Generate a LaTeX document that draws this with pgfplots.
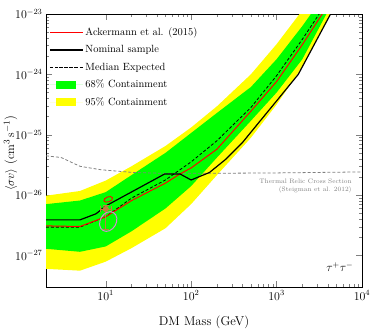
\documentclass[border=0pt]{standalone}
\usepackage{pgfplots}
\pgfplotsset{compat=1.18}

\definecolor{band68}{RGB}{0,255,0}
\definecolor{band95}{RGB}{255,255,0}
\definecolor{relic}{gray}{0.5}
\definecolor{gcepoint}{RGB}{190,125,60}
\definecolor{gceell}{RGB}{210,140,210}

\pgfplotsset{
  lineleg/.style={legend image code/.code={\draw[##1] (9bp,0bp) -- (24bp,0bp); \path (0bp,0bp) -- (33bp,0bp);}},
  boxleg/.style={legend image code/.code={\fill[##1] (6bp,-4bp) rectangle (26bp,4bp); \path (0bp,0bp) -- (33bp,0bp);}},
}

\begin{document}
\begin{tikzpicture}
  \begin{axis}[
    xmode=log, ymode=log,
    scale only axis,
    width=316bp, height=273bp,
    xmin=2, xmax=1e4,
    ymin=3e-28, ymax=1e-23,
    xtick={10,100,1000,10000},
    ytick={1e-27,1e-26,1e-25,1e-24,1e-23},
    tick align=inside,
    xtick pos=both, ytick pos=both,
    major tick length=6bp, minor tick length=3bp,
    axis line style={line width=1pt},
    tick label style={font=\fontsize{11.5}{13}\selectfont},
    xlabel={DM Mass (GeV)},
    ylabel={$\langle\sigma v\rangle$ ($\mathrm{cm^3\,s^{-1}}$)},
    label style={font=\fontsize{12.8}{15}\selectfont},
    ylabel style={at={(axis description cs:-0.112,0.49)}, anchor=center},
    xlabel style={at={(axis description cs:0.5,-0.128)}, anchor=center},
    legend style={at={(0.0,0.965)}, anchor=north west, draw=none, fill=none,
      font=\fontsize{10.5}{12.5}\selectfont, row sep=4.5pt},
    legend cell align=left,
  ]
  % legend entries (drawn in a different order below)
  \addlegendimage{red, line width=1.3pt, lineleg}
  \addlegendimage{black, line width=1.3pt, lineleg}
  \addlegendimage{black, line width=0.8pt, dash pattern=on 3pt off 2pt, lineleg}
  \addlegendimage{fill=band68, draw=none, boxleg}
  \addlegendimage{fill=band95, draw=none, boxleg}
  \legend{Ackermann et al. (2015), Nominal sample, Median Expected, 68\% Containment, 95\% Containment}

  % 95% band: upper edge then lower edge reversed
  \addplot[fill=band95, draw=none, forget plot] coordinates {
    (2,9.77e-27) (5,1.17e-26) (10,1.74e-26) (20,3.0e-26) (50,6.5e-26) (100,1.32e-25)
    (200,2.95e-25) (500,1.0e-24) (1000,3.16e-24) (2000,1.15e-23) (4000,3.98e-23) (10000,2.5e-22)
    (10000,1.0e-22) (4000,8.5e-24) (2000,1.32e-24) (1000,3.16e-25) (500,8.9e-26) (200,2.14e-26)
    (100,7.1e-27) (50,2.82e-27) (20,1.32e-27) (10,7.9e-28) (5,5.6e-28) (2,6.0e-28)
  } -- cycle;

  % 68% band
  \addplot[fill=band68, draw=none, forget plot] coordinates {
    (2,7.08e-27) (5,8.13e-27) (10,1.12e-26) (20,2.14e-26) (50,5.0e-26) (100,1.07e-25)
    (200,2.29e-25) (500,6.17e-25) (1000,1.78e-24) (2000,6.3e-24) (4000,2.5e-23) (10000,1.6e-22)
    (10000,1.26e-22) (4000,1.12e-23) (2000,1.78e-24) (1000,5.0e-25) (500,1.70e-25) (200,4.17e-26)
    (100,1.41e-26) (50,6.0e-27) (20,2.51e-27) (10,1.41e-27) (5,1.15e-27) (2,1.29e-27)
  } -- cycle;

  % thermal relic cross section
  \addplot[relic, line width=0.8pt, dash pattern=on 3pt off 2pt, forget plot] coordinates {
    (2,4.47e-26) (3,4.2e-26) (5,3.0e-26) (8.8,2.63e-26) (21,2.37e-26) (51,2.29e-26)
    (200,2.3e-26) (1000,2.33e-26) (10000,2.42e-26)
  };

  % median expected
  \addplot[black, line width=0.8pt, dash pattern=on 3pt off 2pt, forget plot] coordinates {
    (2,2.95e-27) (5,2.95e-27) (10,4.37e-27) (20,8.9e-27) (50,1.78e-26) (100,3.55e-26)
    (200,7.94e-26) (500,2.82e-25) (1000,9.5e-25) (2000,3.8e-24) (4000,1.66e-23) (10000,1.26e-22)
  };

  % Ackermann et al. (2015)
  \addplot[red, line width=1pt, forget plot] coordinates {
    (2,3.09e-27) (5,3.02e-27) (10,4.37e-27) (20,8.1e-27) (50,1.58e-26) (74,2.24e-26) (100,2.82e-26)
    (200,5.75e-26) (500,2.45e-25) (1000,7.6e-25) (2000,3.1e-24) (4000,1.41e-23) (10000,1.26e-22)
  };

  % nominal sample
  \addplot[black, line width=1.2pt, forget plot] coordinates {
    (2,3.89e-27) (5,3.89e-27) (7.7,4.9e-27) (10,6.6e-27) (49,2.24e-26) (74,2.24e-26) (100,1.78e-26)
    (164,2.37e-26) (255,3.94e-26) (398,7.4e-26) (617,1.58e-25) (1000,3.63e-25) (1795,1.0e-24)
    (4285,1.0e-23) (10000,1.0e-22)
  };

  % GC excess fits
  \addplot[only marks, mark=o, mark size=2.5bp,
    mark options={draw=red, line width=0.9pt, rotate=20, xscale=1.8}, forget plot]
    coordinates {(10.7,8.5e-27)};
  \addplot[only marks, mark=o, mark size=8bp,
    mark options={draw=gceell, line width=1pt, rotate=60, xscale=1.3}, forget plot]
    coordinates {(10.7,3.65e-27)};
  \addplot[only marks, mark=*, mark size=2.8bp, color=gcepoint, forget plot,
    error bars/.cd, x dir=both, x explicit, y dir=both, y explicit,
    error bar style={line width=0.8pt, gcepoint}]
    coordinates {(10,5.9e-27) += (1.6,0.8e-27) -= (1.3,3.15e-27)};

  \node[anchor=north east, align=right, text=relic, font=\fontsize{6.5}{8.5}\selectfont, inner sep=0pt]
    at (axis cs:7600,1.9e-26) {Thermal Relic Cross Section\\(Steigman et al. 2012)};
  \node[font=\large] at (axis cs:5500,6.4e-28) {$\tau^+\tau^-$};
  \end{axis}
  \pgfresetboundingbox
  \path ([xshift=-46bp,yshift=-46bp]current axis.south west) rectangle ([xshift=12bp,yshift=14bp]current axis.north east);
\end{tikzpicture}
\end{document}
